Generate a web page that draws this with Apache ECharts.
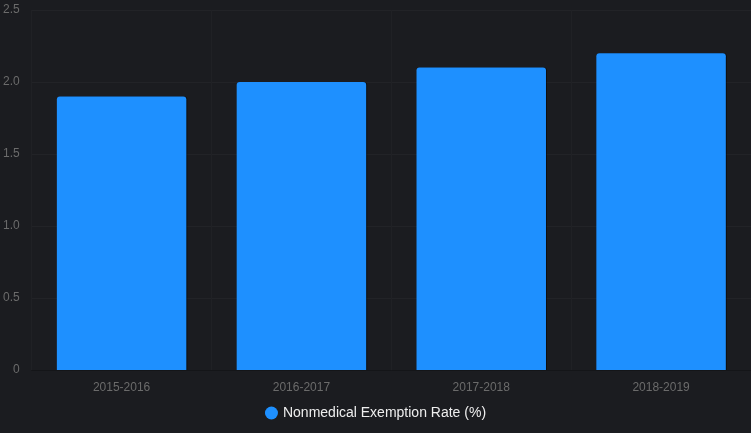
<!DOCTYPE html>
<html><head><meta charset="utf-8">
<script src="https://cdn.jsdelivr.net/npm/echarts@6/dist/echarts.min.js"></script>
<style>html,body{margin:0;padding:0;background:#1b1c20;}#c{width:751px;height:433px;}</style>
</head><body><div id="c"></div>
<script>
const categories = ['2015-2016','2016-2017','2017-2018','2018-2019'];
const rates = [1.9, 2.0, 2.1, 2.2];
const seriesName = 'Nonmedical Exemption Rate (%)';
const chart = echarts.init(document.getElementById('c'));
chart.setOption({
  backgroundColor: '#1b1c20',
  animation: false,
  grid: {left: 30, right: 0, top: 10, bottom: 63},
  legend: {
    bottom: 8, icon: 'circle', itemWidth: 13, itemHeight: 13,
    textStyle: {color: '#eeeeee', fontSize: 14, fontFamily: 'Liberation Sans, Arial, sans-serif'},
    data: [seriesName]
  },
  xAxis: {
    type: 'category', data: categories,
    axisLine: {show: true, lineStyle: {color: '#141518'}},
    axisTick: {show: false},
    splitLine: {show: true, lineStyle: {color: '#202125'}},
    axisLabel: {color: '#6b6b6b', fontSize: 12, margin: 12, fontFamily: 'Liberation Sans, Arial, sans-serif'}
  },
  yAxis: {
    type: 'value', min: 0, max: 2.5, interval: 0.5,
    axisLine: {show: false}, axisTick: {show: false},
    splitLine: {lineStyle: {color: '#222327'}},
    axisLabel: {color: '#6b6b6b', fontSize: 12, margin: 12, fontFamily: 'Liberation Sans, Arial, sans-serif',
      formatter: v => v === 0 ? '0' : v.toFixed(1)}
  },
  series: [{
    name: seriesName, type: 'bar', data: rates, barWidth: '72%',
    itemStyle: {color: '#1e90ff', borderRadius: [3,3,0,0],
      shadowColor: 'rgba(0,0,0,0.5)', shadowOffsetX: 1, shadowBlur: 0}
  }]
});
</script></body></html>
